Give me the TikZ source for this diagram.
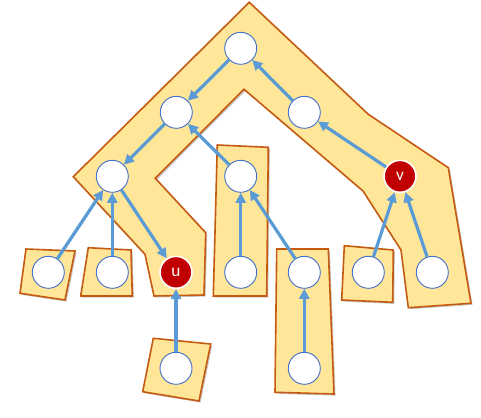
\documentclass[tikz,border=0pt]{standalone}
\usepackage{fontspec}
\setmainfont{Carlito}
\usetikzlibrary{arrows.meta,shadows}
\definecolor{pathfill}{HTML}{FFE699}
\definecolor{pathline}{HTML}{C55A11}
\definecolor{edgeblue}{HTML}{5B9BD5}
\definecolor{nodeblue}{HTML}{4472C4}
\definecolor{markred}{HTML}{C00000}
\tikzset{
  pathshape/.style={fill=pathfill,draw=pathline,line width=1.2pt,line join=miter,
    drop shadow={shadow xshift=1.2pt,shadow yshift=-1.2pt,opacity=0.35,fill=black!60}},
  vert/.style={circle,minimum size=24pt,inner sep=0pt,fill=white,draw=nodeblue,line width=0.7pt},
  marked/.style={circle,minimum size=24pt,inner sep=0pt,fill=markred,draw=white,line width=1.2pt,
    text=white,font=\fontsize{13}{15}\selectfont},
  tedge/.style={draw=edgeblue,line width=2.4pt,-{Triangle[length=7.5pt,width=7.5pt]}}
}
\begin{document}
\begin{tikzpicture}[x=0.75pt,y=-0.75pt]
\useasboundingbox (0,0) rectangle (481,417);
% heavy path shapes
\path[pathshape] (249.3,2.3) -- (368.3,114.3) -- (448.3,167.7) -- (471,303.3) -- (408.3,307.7)
  -- (401,250) -- (363,191) -- (244,89.3) -- (155.3,178.3) -- (205.7,232.7) -- (204,295)
  -- (154,296) -- (145,254.3) -- (73.3,176.7) -- cycle;
\path[pathshape] (217.3,145) -- (268.3,147.3) -- (266.7,296) -- (213.3,296) -- cycle;
\path[pathshape] (276.7,249) -- (328.3,249) -- (334,394) -- (275,392.3) -- cycle;
\path[pathshape] (26,249) -- (75,251) -- (65,300) -- (20,293.3) -- cycle;
\path[pathshape] (88.3,247.7) -- (131,250) -- (132.3,296) -- (80.7,296) -- cycle;
\path[pathshape] (153.3,338.3) -- (210.7,344) -- (199,401) -- (142.7,391.7) -- cycle;
\path[pathshape] (344.3,245.7) -- (393.3,250) -- (392.7,302.3) -- (341.7,300) -- cycle;
% vertices
\node[vert] (r) at (240.7,48.3) {};
\node[vert] (a) at (176.3,112.3) {};
\node[vert] (b) at (304.3,112.3) {};
\node[vert] (c) at (112.3,176.3) {};
\node[vert] (d) at (240.7,176.3) {};
\node[marked] (v) at (400,176.3) {v};
\node[vert] (l1) at (48.3,272.3) {};
\node[vert] (l2) at (112.3,272.3) {};
\node[marked] (u) at (176,272.3) {u};
\node[vert] (m1) at (240.7,272.3) {};
\node[vert] (m2) at (304.3,272.3) {};
\node[vert] (r1) at (368.3,272.3) {};
\node[vert] (r2) at (432.3,272.3) {};
\node[vert] (u1) at (176,368.3) {};
\node[vert] (m3) at (304.3,368.3) {};
% edges
\draw[tedge] (r) -- (a);
\draw[tedge] (a) -- (c);
\draw[tedge] (c) -- (u);
\draw[tedge] (b) -- (r);
\draw[tedge] (v) -- (b);
\draw[tedge] (d) -- (a);
\draw[tedge] (m1) -- (d);
\draw[tedge] (m2) -- (d);
\draw[tedge] (l1) -- (c);
\draw[tedge] (l2) -- (c);
\draw[tedge] (u1) -- (u);
\draw[tedge] (m3) -- (m2);
\draw[tedge] (r1) -- (v);
\draw[tedge] (r2) -- (v);
\end{tikzpicture}
\end{document}
